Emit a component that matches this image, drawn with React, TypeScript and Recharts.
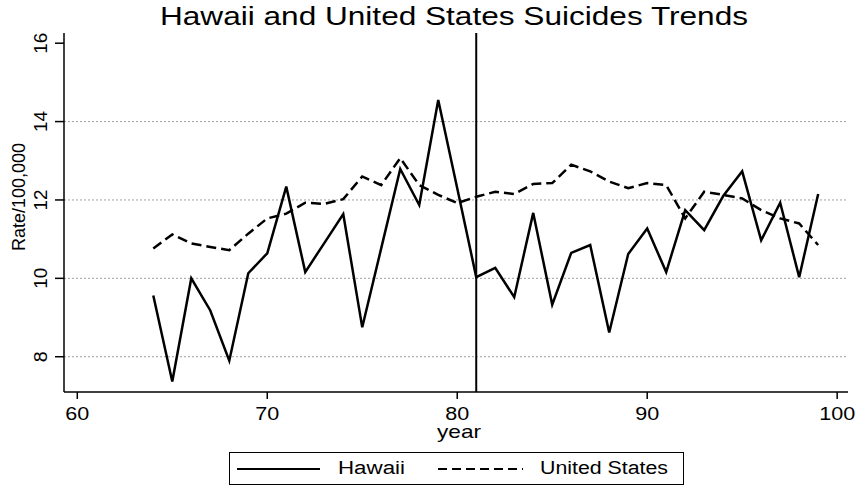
import React from 'react';
import { LineChart, Line, XAxis, YAxis, ReferenceLine, Legend } from 'recharts';

const years = [64, 65, 66, 67, 68, 69, 70, 71, 72, 73, 74, 75, 76, 77, 78, 79, 80, 81, 82, 83, 84, 85, 86, 87, 88, 89, 90, 91, 92, 93, 94, 95, 96, 97, 98, 99];
const hawaii = [9.56, 7.37, 10.0, 9.18, 7.9, 10.13, 10.64, 12.34, 10.16, 10.9, 11.64, 8.75, 10.77, 12.79, 11.87, 14.55, 12.3, 10.03, 10.27, 9.52, 11.67, 9.33, 10.65, 10.85, 8.62, 10.62, 11.27, 10.16, 11.74, 11.23, 12.1, 12.73, 10.97, 11.93, 10.03, 12.15];
const unitedStates = [10.76, 11.12, 10.89, 10.8, 10.72, 11.14, 11.53, 11.65, 11.93, 11.9, 12.02, 12.6, 12.38, 13.07, 12.38, 12.13, 11.92, 12.08, 12.21, 12.15, 12.41, 12.43, 12.9, 12.73, 12.47, 12.3, 12.43, 12.38, 11.53, 12.21, 12.13, 12.04, 11.74, 11.53, 11.4, 10.85];
const xTicks = [60, 70, 80, 90, 100];
const yTicks = [8, 10, 12, 14, 16];
const gridValues = [8, 10, 12, 14];
const breakYear = 81;

const data = years.map((y, i) => ({ year: y, hawaii: hawaii[i], us: unitedStates[i] }));

const FONT = '"Liberation Sans", Arial, Helvetica, sans-serif';

const XTick = (props: any) => {
  const { x, payload } = props;
  const label = String(payload.value);
  return (
    <text x={x} y={420} textAnchor="middle" fontSize={18} fontFamily={FONT} fill="#000"
      textLength={label.length === 3 ? 36 : 24} lengthAdjust="spacingAndGlyphs">
      {label}
    </text>
  );
};

const YTick = (props: any) => {
  const { y, payload } = props;
  const label = String(payload.value);
  return (
    <text x={47} y={y} textAnchor="middle" fontSize={19} fontFamily={FONT} fill="#000"
      transform={`rotate(-90, 47, ${y})`}
      textLength={label.length === 2 ? 21 : 11} lengthAdjust="spacingAndGlyphs">
      {label}
    </text>
  );
};

const LegendBox = () => (
  <div style={{ width: 455, height: 33, border: '1.5px solid #000', boxSizing: 'border-box', background: '#fff' }}>
    <svg width={452} height={30} style={{ display: 'block' }}>
      <line x1={7} x2={90} y1={16} y2={16} stroke="#000" strokeWidth={2} />
      <text x={108} y={21} fontSize={18} fontFamily={FONT} textLength={67} lengthAdjust="spacingAndGlyphs">Hawaii</text>
      <line x1={208} x2={293} y1={16} y2={16} stroke="#000" strokeWidth={2} strokeDasharray="9 5" />
      <text x={310} y={21} fontSize={18} fontFamily={FONT} textLength={128} lengthAdjust="spacingAndGlyphs">United States</text>
    </svg>
  </div>
);

export default function App() {
  return (
    <div style={{ position: 'absolute', left: 0, top: 0, width: 859, height: 487, background: '#fff', fontFamily: FONT }}>
      <LineChart width={859} height={487} data={data} margin={{ top: 33, right: 11, bottom: 0, left: 20 }}>
        {gridValues.map((v) => (
          <ReferenceLine key={v} y={v} stroke="#888" strokeWidth={0.8} strokeDasharray="2 2" />
        ))}
        <XAxis
          dataKey="year"
          type="number"
          domain={[59.3, 100.57]}
          allowDataOverflow
          ticks={xTicks}
          tickSize={7}
          tick={<XTick />}
          axisLine={{ stroke: '#000', strokeWidth: 1.5 }}
          tickLine={{ stroke: '#000', strokeWidth: 1.5 }}
          height={95}
          label={(p: any) => (
            <text x={459} y={438} textAnchor="middle" fontSize={19} fontFamily={FONT} textLength={44} lengthAdjust="spacingAndGlyphs">year</text>
          )}
        />
        <YAxis
          type="number"
          domain={[7.1, 16.26]}
          allowDataOverflow
          ticks={yTicks}
          tickSize={9}
          width={44}
          tick={<YTick />}
          axisLine={{ stroke: '#000', strokeWidth: 1.5 }}
          tickLine={{ stroke: '#000', strokeWidth: 1.5 }}
          label={(p: any) => (
            <text x={25} y={197} textAnchor="middle" fontSize={18} fontFamily={FONT}
              transform="rotate(-90, 25, 197)" textLength={108} lengthAdjust="spacingAndGlyphs">Rate/100,000</text>
          )}
        />
        <ReferenceLine x={breakYear} stroke="#000" strokeWidth={2} />
        <Line type="linear" dataKey="hawaii" name="Hawaii" stroke="#000" strokeWidth={2.5} dot={false} isAnimationActive={false} />
        <Line type="linear" dataKey="us" name="United States" stroke="#000" strokeWidth={2.5} strokeDasharray="10 5" dot={false} isAnimationActive={false} />
        <Legend
          layout="horizontal"
          verticalAlign="middle"
          align="center"
          content={<LegendBox />}
          wrapperStyle={{ left: 229, top: 452, width: 455, height: 33, margin: 0 }}
        />
      </LineChart>
      <svg width={859} height={40} style={{ position: 'absolute', left: 0, top: 0, pointerEvents: 'none' }}>
        <text x={454} y={25} textAnchor="middle" fontSize={26} fontFamily={FONT} fill="#000"
          textLength={588} lengthAdjust="spacingAndGlyphs">Hawaii and United States Suicides Trends</text>
      </svg>
    </div>
  );
}
